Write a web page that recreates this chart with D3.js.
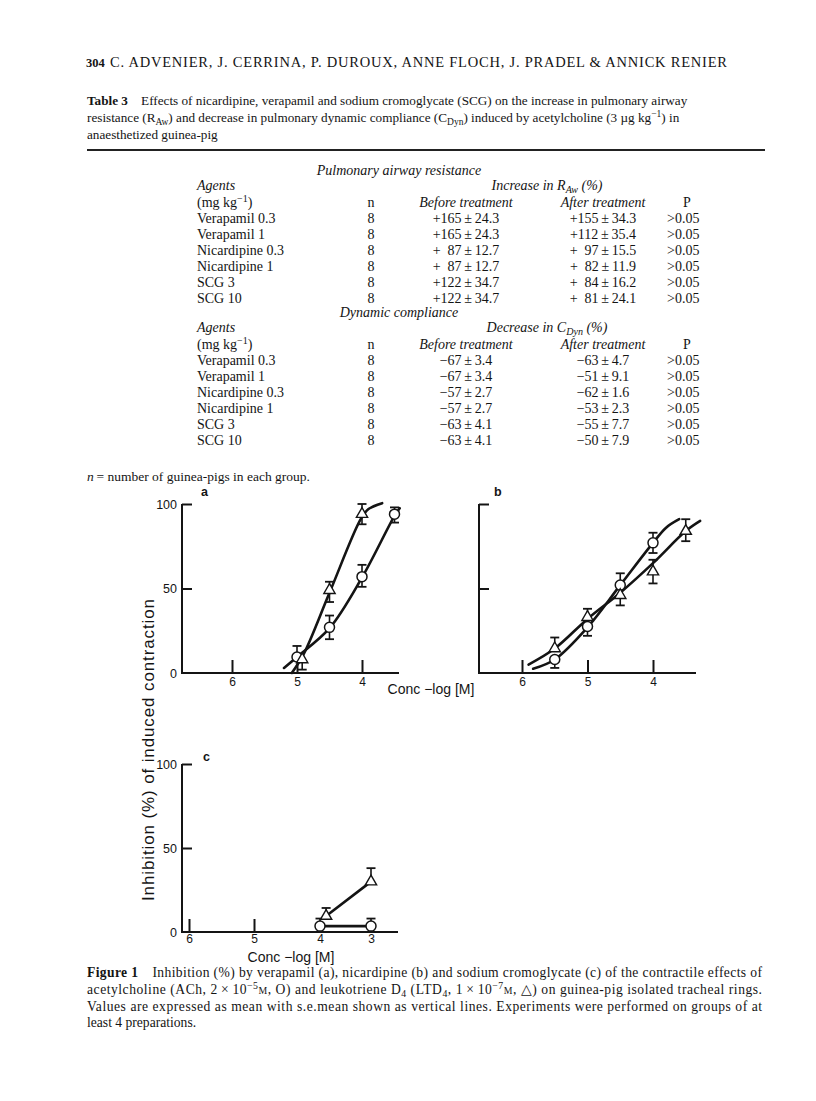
<!DOCTYPE html>
<html><head><meta charset="utf-8">
<script src="https://cdn.jsdelivr.net/npm/d3@7"></script>
<style>
body{margin:0;background:#fff;}
svg text{font-family:"Liberation Serif","Times New Roman",serif;fill:#141414;}
svg text.sans{font-family:"Liberation Sans",Arial,sans-serif;}
</style></head><body><svg id="page" width="816" height="1101"></svg>
<script>
// ---------- Table data ----------
const agents = ["Verapamil 0.3","Verapamil 1","Nicardipine 0.3","Nicardipine 1","SCG 3","SCG 10"];
const nVals = [8,8,8,8,8,8];
const rawBeforeMean = [165,165,87,87,122,122];
const rawBeforeSem  = [24.3,24.3,12.7,12.7,34.7,34.7];
const rawAfterMean  = [155,112,97,82,84,81];
const rawAfterSem   = [34.3,35.4,15.5,11.9,16.2,24.1];
const cdynBeforeMean = [-67,-67,-57,-57,-63,-63];
const cdynBeforeSem  = [3.4,3.4,2.7,2.7,4.1,4.1];
const cdynAfterMean  = [-63,-51,-62,-53,-55,-50];
const cdynAfterSem   = [4.7,9.1,1.6,2.3,7.7,7.9];
const pVals = [">0.05",">0.05",">0.05",">0.05",">0.05",">0.05"];

// ---------- Figure data (x = -log[M], y = % inhibition) ----------
const tickLabelsX = [6,5,4];
const tickLabelsXc = [6,5,4,3];
const tickLabelsY = [0,50,100];
// panel a (verapamil)
const aAchX = [5.0,4.5,4.0,3.5], aAchY = [9.5,27,57,94], aAchLo = [9.5,20,51,89], aAchHi = [16,34,64,98];
const aLtX = [4.92,4.5,4.0], aLtY = [8,49,94], aLtLo = [2,42,88], aLtHi = [8,54,100];
const aAchCurve = [[5.2,3],[5.0,9.5],[4.5,26.5],[4.0,56.5],[3.5,93],[3.42,97.5]];
const aLtCurve  = [[5.08,0],[4.9,11],[4.5,47.5],[4.02,91],[3.9,97],[3.69,100.5]];
// panel b (nicardipine)
const bAchX = [5.5,5.0,4.5,4.0], bAchY = [8,27.5,52,77], bAchLo = [3,22,52,71], bAchHi = [8,27.5,59,83];
const bLtX = [5.5,5.0,4.5,4.0,3.5], bLtY = [14.5,33,46,60,84], bLtLo = [14.5,33,40,53,78], bLtHi = [21,38,46,67,91];
const bAchCurve = [[5.83,2.5],[5.5,8],[5.0,27],[4.5,52],[4.0,77],[3.8,86],[3.6,91]];
const bLtCurve  = [[5.9,5],[5.5,14.5],[5.0,32],[4.5,47.5],[4.0,65],[3.5,84],[3.28,90]];
// panel c (sodium cromoglycate)
const cAchX = [4,3], cAchY = [3.5,3.5], cAchLo = [3.5,3.5], cAchHi = [8,8];
const cLtX = [3.88,3], cLtY = [9.5,30], cLtLo = [9.5,30], cLtHi = [14.3,38];

const svg = d3.select("#page");
svg.append("rect").attr("width",816).attr("height",1101).attr("fill","#fff");

// rich text helper: segments are strings or {t, sup, sub, b, i, sc}
function rich(parent, x, y, segs, size, opts={}) {
  const t = parent.append("text").attr("x",x).attr("y",y).attr("font-size",size);
  if (opts.anchor) t.attr("text-anchor",opts.anchor);
  if (opts.italic) t.attr("font-style","italic");
  if (opts.len) t.attr("textLength",opts.len).attr("lengthAdjust","spacing");
  let shift = 0;
  segs.forEach(s => {
    if (typeof s === "string") s = {t:s};
    const sp = t.append("tspan").text(s.t);
    let target = 0;
    if (s.sup) target = -size*0.38;
    if (s.sub) target = size*0.22;
    if (target !== shift) { sp.attr("dy", target - shift); shift = target; }
    if (s.sup || s.sub || s.sc) sp.attr("font-size", size*0.72);
    if (s.b) sp.attr("font-weight","bold");
    if (s.i) sp.attr("font-style","italic");
  });
  return t;
}

// ---------- Header ----------
rich(svg, 86, 67, [{t:"304",b:true}], 12.5);
rich(svg, 110, 67, ["C. ADVENIER, J. CERRINA, P. DUROUX, ANNE FLOCH, J. PRADEL & ANNICK RENIER"], 14.5, {len:617});

// ---------- Table caption ----------
rich(svg, 87, 105, [{t:"Table 3",b:true},"\u2003Effects of nicardipine, verapamil and sodium cromoglycate (SCG) on the increase in pulmonary airway"], 13.2);
rich(svg, 87, 122, ["resistance (R",{t:"Aw",sub:true},") and decrease in pulmonary dynamic compliance (C",{t:"Dyn",sub:true},") induced by acetylcholine (3 \u00b5g kg",{t:"\u22121",sup:true},") in"], 13.2);
rich(svg, 87, 139, ["anaesthetized guinea-pig"], 13.2);
svg.append("line").attr("x1",87).attr("x2",765).attr("y1",150).attr("y2",150).attr("stroke","#222").attr("stroke-width",2);

// ---------- Table body ----------
const colAgent = 197, colN = 371, colBefore = 466, colAfter = 603, colP = 687, colPv = 667;
const fs = 14;
function fmt(m, s, signed) {
  const sign = m < 0 ? "\u2212" : "+";
  const a = Math.abs(m);
  const pad = (signed && a < 100) ? "\u2007" : "";
  return sign + pad + a + "\u2009\u00b1\u2009" + s.toFixed(1);
}
function section(y0, title, header, sub, bM, bS, aM, aS, signed) {
  const g = svg.append("g");
  rich(g, 399, y0, [title], fs, {anchor:"middle", italic:true});
  rich(g, colAgent, y0+15, ["Agents"], fs, {italic:true});
  rich(g, 547, y0+15, [header+" ", {t:sub[0]}, {t:sub[1],sub:true}, {t:" (%)"}], fs, {anchor:"middle", italic:true});
  rich(g, colAgent, y0+32, ["(mg kg",{t:"\u22121",sup:true},")"], fs);
  rich(g, colN, y0+32, ["n"], fs, {anchor:"middle"});
  rich(g, colBefore, y0+32, ["Before treatment"], fs, {anchor:"middle", italic:true});
  rich(g, colAfter, y0+32, ["After treatment"], fs, {anchor:"middle", italic:true});
  rich(g, colP, y0+32, ["P"], fs, {anchor:"middle"});
  agents.forEach((a,i) => {
    const y = y0 + 48 + i*15.9;
    rich(g, colAgent, y, [a], fs);
    rich(g, colN, y, [String(nVals[i])], fs, {anchor:"middle"});
    rich(g, colBefore, y, [fmt(bM[i], bS[i], signed)], fs, {anchor:"middle"});
    rich(g, colAfter, y, [fmt(aM[i], aS[i], signed)], fs, {anchor:"middle"});
    rich(g, colPv, y, [pVals[i]], fs);
  });
}
section(175, "Pulmonary airway resistance", "Increase in", ["R","Aw"], rawBeforeMean, rawBeforeSem, rawAfterMean, rawAfterSem, true);
section(317, "Dynamic compliance", "Decrease in", ["C","Dyn"], cdynBeforeMean, cdynBeforeSem, cdynAfterMean, cdynAfterSem, false);
rich(svg, 87, 481, [{t:"n",i:true},"\u2009= number of guinea-pigs in each group."], 13.5);

// ---------- Figure panels ----------
const lineCol = "#141414";
function panel(cfg) {
  const g = svg.append("g");
  const x = cfg.x, y = cfg.y;
  g.append("line").attr("x1",cfg.ax0).attr("x2",cfg.ax0).attr("y1",y(0)).attr("y2",y(100)).attr("stroke",lineCol).attr("stroke-width",2);
  g.append("line").attr("x1",cfg.ax0-1).attr("x2",cfg.ax1).attr("y1",y(0)).attr("y2",y(0)).attr("stroke",lineCol).attr("stroke-width",2);
  const ya = d3.axisLeft(y).tickValues(tickLabelsY).tickSizeInner(-cfg.yTick).tickSizeOuter(0).tickPadding(5).tickFormat(d3.format("d"));
  if (!cfg.yLabels) ya.tickFormat("");
  const yg = g.append("g").attr("transform",`translate(${cfg.ax0},0)`).call(ya);
  yg.select(".domain").remove();
  yg.selectAll(".tick line").attr("stroke",lineCol).attr("stroke-width",2).filter(d=>d===0).remove();
  yg.selectAll(".tick text").attr("class","sans").attr("font-size",12.5).attr("fill","#141414");
  const xa = d3.axisBottom(x).tickValues(cfg.xTicks).tickSizeInner(-13).tickSizeOuter(0).tickPadding(cfg.xPad || 4).tickFormat(d3.format("d"));
  const xg = g.append("g").attr("transform",`translate(0,${y(0)})`).call(xa);
  xg.select(".domain").remove();
  xg.selectAll(".tick line").attr("stroke",lineCol).attr("stroke-width",2).filter(d=>!cfg.xTickMarks.includes(d)).remove();
  xg.selectAll(".tick text").attr("class","sans").attr("font-size",12).attr("fill","#141414");
  g.append("text").attr("class","sans").attr("x",cfg.letterX).attr("y",cfg.letterY).attr("font-size",12.5).attr("font-weight","bold").text(cfg.letter);
  if (cfg.xlabX) g.append("text").attr("class","sans").attr("x",cfg.xlabX).attr("y",cfg.xlabY).attr("font-size",14).attr("text-anchor","middle").text("Conc \u2212log [M]");
  const ln = d3.line().x(d=>x(d[0])).y(d=>y(d[1])).curve(cfg.curve || d3.curveCatmullRom.alpha(0.5));
  cfg.curves.forEach(c => g.append("path").attr("d",ln(c)).attr("fill","none").attr("stroke",lineCol).attr("stroke-width",2.6).attr("stroke-linecap","round"));
  cfg.series.forEach(s => {
    s.x.forEach((xv,i) => {
      const px = x(xv);
      const lo = s.lo[i], hi = s.hi[i];
      if (lo === hi) return;
      g.append("line").attr("x1",px).attr("x2",px).attr("y1",y(lo)).attr("y2",y(hi)).attr("stroke",lineCol).attr("stroke-width",1.6);
      [lo,hi].forEach(v => { if (v !== s.y[i]) g.append("line").attr("x1",px-4.5).attr("x2",px+4.5).attr("y1",y(v)).attr("y2",y(v)).attr("stroke",lineCol).attr("stroke-width",1.8); });
    });
  });
  cfg.series.forEach(s => {
    s.x.forEach((xv,i) => {
      if (s.shape === "circle") {
        g.append("circle").attr("cx",x(xv)).attr("cy",y(s.y[i])).attr("r",5).attr("fill","#fff").attr("stroke",lineCol).attr("stroke-width",1.5);
      } else {
        g.append("path").attr("d",d3.symbol(d3.symbolTriangle,55)()).attr("transform",`translate(${x(xv)},${y(s.y[i])})`).attr("fill","#fff").attr("stroke",lineCol).attr("stroke-width",1.4);
      }
    });
  });
}

// panel a
const xA = d3.scaleLinear().domain([6,3]).range([232,427]);
const yA = d3.scaleLinear().domain([0,100]).range([673,504]);
panel({x:xA, y:yA, ax0:182, ax1:399, yTick:10, yLabels:true, xTicks:tickLabelsX, xTickMarks:tickLabelsX,
  letter:"a", letterX:201, letterY:496,
  curves:[aAchCurve, aLtCurve],
  series:[{shape:"circle",x:aAchX,y:aAchY,lo:aAchLo,hi:aAchHi},{shape:"tri",x:aLtX,y:aLtY,lo:aLtLo,hi:aLtHi}]});
// panel b
const xB = d3.scaleLinear().domain([6,4]).range([522,653]);
panel({x:xB, y:yA, ax0:479, ax1:696, yTick:10, yLabels:false, xTicks:tickLabelsX, xTickMarks:tickLabelsX,
  letter:"b", letterX:494, letterY:496,
  curves:[bAchCurve, bLtCurve],
  series:[{shape:"circle",x:bAchX,y:bAchY,lo:bAchLo,hi:bAchHi},{shape:"tri",x:bLtX,y:bLtY,lo:bLtLo,hi:bLtHi}]});
svg.append("text").attr("class","sans").attr("x",431).attr("y",694).attr("font-size",14).attr("text-anchor","middle").text("Conc \u2212log [M]");
// panel c
const xC = d3.scaleLinear().domain([6,5,4,3]).range([189,254,320,371]);
const yC = d3.scaleLinear().domain([0,100]).range([932,764]);
panel({x:xC, y:yC, ax0:182, ax1:398, yTick:10, yLabels:true, xTicks:tickLabelsXc, xTickMarks:[6,5], xPad:2,
  letter:"c", letterX:203, letterY:761, xlabX:291, xlabY:962, curve:d3.curveLinear,
  curves:[cAchX.map((v,i)=>[v,cAchY[i]]), cLtX.map((v,i)=>[v,cLtY[i]])],
  series:[{shape:"circle",x:cAchX,y:cAchY,lo:cAchLo,hi:cAchHi},{shape:"tri",x:cLtX,y:cLtY,lo:cLtLo,hi:cLtHi}]});

// shared y label
svg.append("text").attr("class","sans").attr("transform","translate(154,750) rotate(-90)").attr("font-size",17).attr("text-anchor","middle")
  .attr("textLength",302).attr("lengthAdjust","spacing").text("Inhibition (%) of induced contraction");

// ---------- Figure caption ----------
const capW = 675;
rich(svg, 87, 977, [{t:"Figure 1",b:true},"\u2003Inhibition (%) by verapamil (a), nicardipine (b) and sodium cromoglycate (c) of the contractile effects of"], 13.6, {len:capW});
rich(svg, 87, 994, ["acetylcholine (ACh, 2\u2009\u00d7\u200910",{t:"\u22125",sup:true},{t:"M",sc:true},", O) and leukotriene D",{t:"4",sub:true}," (LTD",{t:"4",sub:true},", 1\u2009\u00d7\u200910",{t:"\u22127",sup:true},{t:"M",sc:true},", \u25b3) on guinea-pig isolated tracheal rings."], 13.6, {len:capW});
rich(svg, 87, 1011, ["Values are expressed as mean with s.e.mean shown as vertical lines. Experiments were performed on groups of at"], 13.6, {len:capW});
rich(svg, 87, 1027, ["least 4 preparations."], 13.6);
</script></body></html>
